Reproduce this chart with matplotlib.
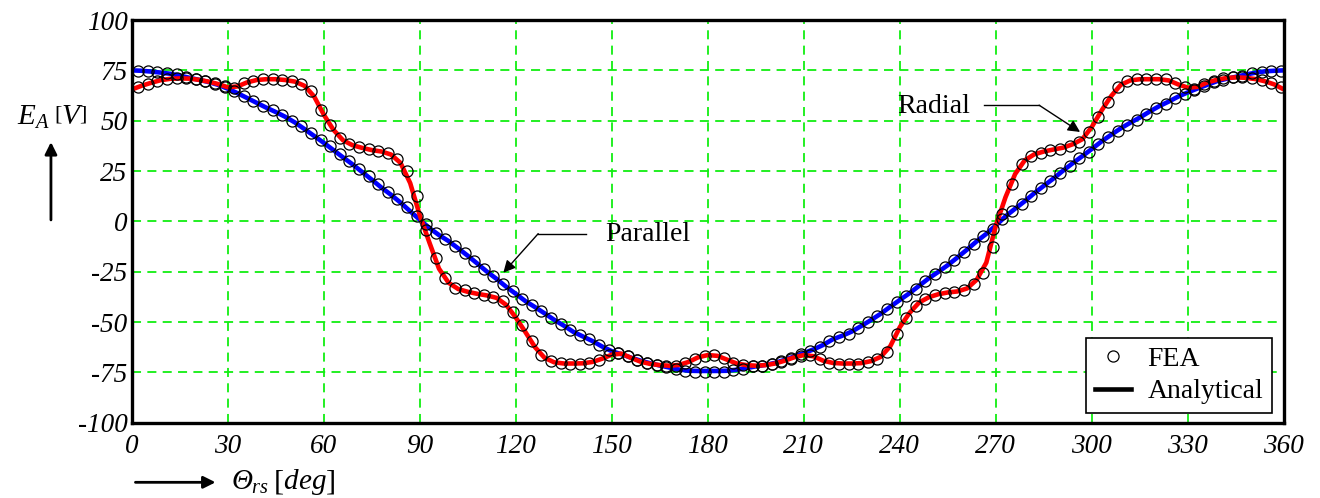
import matplotlib.pyplot as plt
from matplotlib.lines import Line2D
from matplotlib.patches import FancyArrowPatch
import numpy as np

plt.rcParams['font.family'] = 'Liberation Serif'
plt.rcParams['mathtext.fontset'] = 'custom'
plt.rcParams['mathtext.rm'] = 'Liberation Serif'
plt.rcParams['mathtext.it'] = 'Liberation Serif:italic'
plt.rcParams['axes.unicode_minus'] = False

# analytical curves, every 3 deg from 0 to 360
theta_ana = np.arange(0, 361, 3)
radial_ana = [
	65.5, 67.3, 68.8, 70.1, 70.8, 71.0, 70.9, 70.3, 69.4, 68.2,
	66.6, 67.0, 69.0, 70.2, 70.6, 70.6, 70.2, 69.4, 67.3, 62.0,
	53.0, 45.5, 40.3, 37.8, 36.5, 35.4, 34.7, 33.2, 29.0, 19.0,
	3.0, -10.5, -23.5, -30.5, -33.6, -35.0, -36.0, -36.8, -38.0, -41.5,
	-47.8, -55.0, -62.5, -67.8, -70.0, -70.6, -70.6, -70.5, -69.8, -68.2,
	-66.2, -65.7, -67.8, -69.7, -70.8, -71.4, -71.7, -71.3, -69.8, -67.5,
	-66.4, -66.8, -68.7, -70.6, -71.4, -71.7, -71.4, -70.6, -69.2, -67.5,
	-66.4, -67.0, -69.2, -70.3, -70.6, -70.6, -70.4, -69.4, -67.3, -62.0,
	-52.5, -45.5, -40.3, -37.7, -36.2, -35.3, -34.8, -33.3, -29.0, -20.5,
	-2.0, 12.0, 23.5, 30.3, 33.3, 34.7, 35.7, 36.6, 38.3, 40.8,
	47.0, 55.0, 62.2, 67.8, 70.0, 70.6, 70.6, 70.6, 70.0, 68.0,
	66.4, 66.8, 69.0, 70.3, 71.2, 71.5, 71.3, 70.7, 69.6, 68.0,
	65.5]
parallel_ana = [
	75.0, 74.8, 74.4, 73.9, 73.3, 72.4, 71.3, 70.3, 69.2, 67.8,
	65.9, 63.7, 61.3, 58.9, 56.5, 54.3, 51.9, 49.1, 45.8, 42.4,
	39.0, 35.4, 31.8, 28.3, 24.5, 20.7, 16.8, 13.2, 9.3, 5.0,
	0.8, -3.3, -6.8, -9.8, -13.4, -17.1, -21.0, -25.0, -28.6, -32.5,
	-36.0, -39.6, -42.6, -45.7, -48.9, -51.8, -54.9, -57.2, -59.5, -62.2,
	-64.5, -66.0, -67.7, -69.2, -70.5, -71.6, -72.6, -73.6, -74.2, -74.3,
	-74.3, -74.3, -74.2, -73.7, -72.9, -72.0, -71.3, -70.3, -68.8, -67.1,
	-65.4, -63.6, -61.4, -58.6, -56.8, -54.7, -51.9, -49.0, -45.9, -42.4,
	-39.0, -35.7, -32.0, -28.3, -25.1, -21.7, -17.9, -14.0, -9.9, -6.2,
	-2.0, 2.5, 6.3, 10.0, 14.0, 17.7, 21.3, 25.2, 28.9, 32.4,
	36.0, 39.7, 43.0, 46.2, 49.0, 51.6, 54.5, 57.2, 59.5, 62.0,
	64.1, 66.0, 67.8, 69.6, 70.8, 71.8, 72.9, 73.8, 74.5, 74.8,
	75.0]

# FEA results, every 3 deg from 2 to 359
theta_fea = np.arange(2, 360, 3)
radial_fea = [
	66.5, 68.2, 69.8, 70.6, 71.0, 71.0, 70.6, 69.8, 68.6, 67.2,
	66.3, 68.5, 69.8, 70.6, 70.6, 70.4, 69.8, 68.0, 64.6, 55.5,
	47.8, 41.5, 38.2, 37.0, 35.7, 35.0, 34.0, 30.8, 25.0, 12.5,
	-4.5, -18.0, -28.0, -33.0, -34.3, -35.7, -36.4, -37.4, -39.8, -45.0,
	-51.7, -59.5, -66.3, -69.6, -70.4, -70.6, -70.6, -70.3, -69.0, -66.6,
	-65.3, -67.1, -69.1, -70.4, -71.1, -71.6, -71.6, -70.5, -68.6, -66.7,
	-66.3, -67.9, -70.1, -71.1, -71.6, -71.6, -71.0, -69.9, -68.2, -66.7,
	-66.4, -68.5, -70.1, -70.6, -70.6, -70.6, -69.9, -68.2, -64.7, -56.0,
	-48.0, -41.8, -38.4, -36.7, -35.5, -35.1, -34.1, -31.0, -25.5, -12.5,
	3.5, 18.5, 28.6, 32.5, 34.0, 35.4, 35.9, 37.6, 39.3, 44.5,
	51.6, 59.5, 66.8, 69.5, 70.6, 70.6, 70.6, 70.5, 68.8, 66.9,
	65.9, 68.3, 69.9, 71.0, 71.5, 71.5, 71.0, 70.2, 68.8, 66.8]
parallel_fea = [
	74.8, 74.7, 74.0, 73.6, 73.0, 71.6, 70.6, 69.6, 68.3, 66.8,
	64.7, 62.3, 59.9, 57.4, 55.4, 53.0, 49.9, 47.4, 43.8, 40.6,
	37.2, 33.4, 30.0, 26.2, 22.5, 18.5, 14.6, 11.0, 7.3, 2.6,
	-1.5, -5.6, -8.6, -12.2, -15.8, -19.7, -23.7, -27.3, -31.3, -34.7,
	-38.5, -41.5, -44.6, -47.9, -50.8, -53.8, -56.3, -58.6, -61.3, -63.8,
	-65.4, -67.1, -68.8, -70.1, -71.2, -72.3, -73.3, -74.5, -75.0, -75.0,
	-75.0, -75.0, -74.0, -73.5, -72.0, -71.6, -71.0, -69.4, -67.7, -66.1,
	-64.3, -62.5, -59.3, -57.6, -55.7, -52.8, -50.1, -47.0, -43.6, -40.2,
	-37.0, -33.4, -29.6, -26.3, -22.9, -19.2, -15.4, -11.0, -7.4, -3.8,
	1.2, 5.0, 8.7, 12.6, 16.5, 19.8, 24.0, 27.6, 31.3, 34.6,
	38.5, 41.7, 45.0, 48.0, 50.5, 53.3, 56.2, 58.4, 61.2, 63.4,
	65.4, 67.1, 69.1, 70.4, 71.5, 72.4, 73.6, 74.3, 74.8, 74.8]

xticks = np.arange(0, 361, 30)
yticks = np.arange(-100, 101, 25)

fig = plt.figure(figsize=(13.2, 4.98), dpi=100)
ax = fig.add_axes([0.0998, 0.1512, 0.8729, 0.8086])

ax.plot(theta_ana, parallel_ana, color='#0000ff', lw=3.3, zorder=3)
ax.plot(theta_ana, radial_ana, color='#ff0000', lw=3.3, zorder=3)
ax.plot(theta_fea, parallel_fea, ls='none', marker='o', ms=8, mfc='none', mec='black', mew=0.9, zorder=4)
ax.plot(theta_fea, radial_fea, ls='none', marker='o', ms=8, mfc='none', mec='black', mew=0.9, zorder=4)

ax.set_xlim(0, 360)
ax.set_ylim(-100, 100)
ax.set_xticks(xticks)
ax.set_yticks(yticks)
ax.set_xticklabels([str(t) for t in xticks], fontstyle='italic', fontsize=19.5)
ax.set_yticklabels([str(t) for t in yticks], fontstyle='italic', fontsize=19.5)
ax.tick_params(length=0)
ax.tick_params(axis='y', pad=3)
ax.tick_params(axis='x', pad=8)
ax.grid(True, color='#11ee11', ls=(0, (5, 3.5)), lw=1.3)
for s in ax.spines.values():
	s.set_linewidth(2.4)
	s.set_zorder(5)

# annotations
ax.text(250.4, 57.2, 'Radial', fontsize=20, ha='center', va='center')
ax.plot([266.3, 283.5], [57.7, 57.7], color='black', lw=1)
ax.annotate('', xy=(296.3, 44.4), xytext=(283.5, 57.7),
	arrowprops=dict(arrowstyle='-|>', color='black', lw=1, mutation_scale=18, shrinkA=0, shrinkB=0))
ax.text(161.3, -6.5, 'Parallel', fontsize=20, ha='center', va='center')
ax.plot([142, 127], [-6.1, -6.1], color='black', lw=1)
ax.annotate('', xy=(116.1, -25.5), xytext=(127, -6.1),
	arrowprops=dict(arrowstyle='-|>', color='black', lw=1, mutation_scale=18, shrinkA=0, shrinkB=0))

handles = [Line2D([], [], ls='none', marker='o', ms=8, mfc='none', mec='black', mew=0.9),
	Line2D([], [], color='black', lw=3.3)]
leg = ax.legend(handles, ['FEA', 'Analytical'], loc='lower right', bbox_to_anchor=(0.9893, 0.0248),
	borderaxespad=0, fontsize=20, fancybox=False, framealpha=1, edgecolor='black',
	handlelength=1.3, handletextpad=0.6, labelspacing=0.25, borderpad=0.3)
leg.get_frame().set_linewidth(1.2)
leg.set_zorder(6)

# axis labels with arrows
fig.text(0.0394, 0.765, r'$E_A\;\left[V\right]$', fontsize=21, ha='center', va='center')
fig.patches.append(FancyArrowPatch((0.0386, 0.5528), (0.0386, 0.7203),
	transform=fig.transFigure, arrowstyle='-|>', mutation_scale=18, color='black', lw=2))
fig.text(0.1755, 0.0185, 'Θ', fontsize=21, fontstyle='italic', ha='left', va='baseline')
fig.text(0.1905, 0.0185, r'$_{rs}\;\left[deg\right]$', fontsize=21, ha='left', va='baseline')
fig.patches.append(FancyArrowPatch((0.1005, 0.0315), (0.1654, 0.0315),
	transform=fig.transFigure, arrowstyle='-|>', mutation_scale=18, color='black', lw=2))

fig.savefig('out.png', dpi=100)
